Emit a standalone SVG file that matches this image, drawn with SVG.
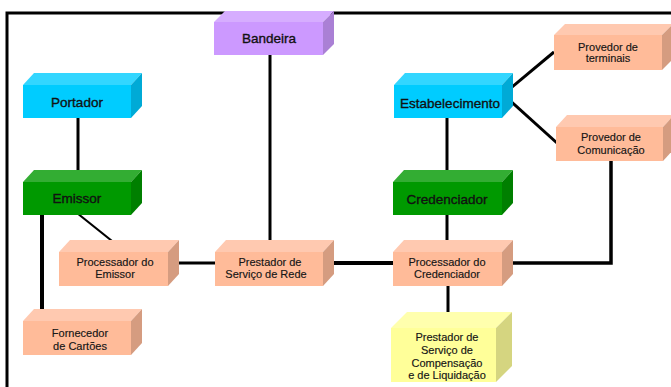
<svg xmlns="http://www.w3.org/2000/svg" width="671" height="387" viewBox="0 0 671 387">
<style>
.t{font-family:"Liberation Sans",Arial,sans-serif;fill:#111;text-anchor:middle}
.L{font-size:13.5px;stroke:#111;stroke-width:0.35px}
.s{font-size:11px;stroke:#222;stroke-width:0.15px}
.ln{stroke:#000;fill:none;stroke-linecap:butt}
.cyF{fill:#00CCFF}.cyT{fill:#33D6FF}.cyR{fill:#00AAD6}
.grF{fill:#009900}.grT{fill:#33AD33}.grR{fill:#007F00}
.puF{fill:#CC99FF}.puT{fill:#D6ADFF}.puR{fill:#AA80D5}
.saF{fill:#FFBB99}.saT{fill:#FFC9B0}.saR{fill:#D59C80}
.yeF{fill:#FFFF99}.yeT{fill:#FFFFAD}.yeR{fill:#D5D580}
</style>
<rect width="671" height="387" fill="#fff"/>
<path class="ln" d="M7,390 V13 H675" stroke-width="3"/>
<g id="connectors">
<path class="ln" d="M78,118 V176" stroke-width="3"/>
<path class="ln" d="M77,213 L117,245" stroke-width="2.2"/>
<path class="ln" d="M42,212 V316" stroke-width="4"/>
<path class="ln" d="M270,55 V245" stroke-width="3"/>
<path class="ln" d="M173,263 H215" stroke-width="3"/>
<path class="ln" d="M328,263 H393" stroke-width="4"/>
<path class="ln" d="M506,92 L554,52" stroke-width="3"/>
<path class="ln" d="M506,97 L557,143" stroke-width="3"/>
<path class="ln" d="M447,118 V173" stroke-width="3"/>
<path class="ln" d="M447,215 V247" stroke-width="3"/>
<path class="ln" d="M611,161 V263 H506" stroke-width="3.5"/>
<path class="ln" d="M448,286 V318" stroke-width="3"/>
</g>
<g id="bandeira">
<polygon class="puT" points="214,22 225,11 334,11 323,22"/>
<polygon class="puR" points="323,22 334,11 334,44 323,55"/>
<rect class="puF" x="214" y="22" width="109" height="33"/>
<text class="t L" x="269" y="43">Bandeira</text>
</g>
<g id="portador">
<polygon class="cyT" points="23,85 34,73 142,73 131,85"/>
<polygon class="cyR" points="131,85 142,73 142,106 131,118"/>
<rect class="cyF" x="23" y="85" width="108" height="33"/>
<text class="t L" x="77" y="107">Portador</text>
</g>
<g id="emissor">
<polygon class="grT" points="23,182 34,170 142,170 131,182"/>
<polygon class="grR" points="131,182 142,170 142,203 131,215"/>
<rect class="grF" x="23" y="182" width="108" height="33"/>
<text class="t L" x="77" y="203">Emissor</text>
</g>
<g id="estabelecimento">
<polygon class="cyT" points="394,85 405,73 513,73 502,85"/>
<polygon class="cyR" points="502,85 513,73 513,106 502,118"/>
<rect class="cyF" x="394" y="85" width="108" height="33"/>
<text class="t L" x="450" y="108">Estabelecimento</text>
</g>
<g id="credenciador">
<polygon class="grT" points="393,182 404,170 513,170 502,182"/>
<polygon class="grR" points="502,182 513,170 513,203 502,215"/>
<rect class="grF" x="393" y="182" width="109" height="33"/>
<text class="t L" x="447" y="204">Credenciador</text>
</g>
<g id="processador-emissor">
<polygon class="saT" points="59,252 70,240 179,240 168,252"/>
<polygon class="saR" points="168,252 179,240 179,274 168,286"/>
<rect class="saF" x="59" y="252" width="109" height="34"/>
<text class="t s" x="115" y="266">Processador do</text>
<text class="t s" x="115" y="278">Emissor</text>
</g>
<g id="prestador-rede">
<polygon class="saT" points="215,252 226,240 334,240 323,252"/>
<polygon class="saR" points="323,252 334,240 334,274 323,286"/>
<rect class="saF" x="215" y="252" width="108" height="34"/>
<text class="t s" x="270" y="266">Prestador de</text>
<text class="t s" x="266" y="278">Serviço de Rede</text>
</g>
<g id="processador-credenciador">
<polygon class="saT" points="393,252 404,240 513,240 502,252"/>
<polygon class="saR" points="502,252 513,240 513,274 502,286"/>
<rect class="saF" x="393" y="252" width="109" height="34"/>
<text class="t s" x="447" y="266">Processador do</text>
<text class="t s" x="447" y="278">Credenciador</text>
</g>
<g id="fornecedor">
<polygon class="saT" points="23,321 34,309 142,309 131,321"/>
<polygon class="saR" points="131,321 142,309 142,343 131,355"/>
<rect class="saF" x="23" y="321" width="108" height="34"/>
<text class="t s" x="80" y="337">Fornecedor</text>
<text class="t s" x="80" y="350">de Cartões</text>
</g>
<g id="provedor-terminais">
<polygon class="saT" points="554,35 565,24 673,24 662,35"/>
<polygon class="saR" points="662,35 673,24 673,59 662,70"/>
<rect class="saF" x="554" y="35" width="108" height="35"/>
<text class="t s" x="608" y="51">Provedor de</text>
<text class="t s" x="608" y="62">terminais</text>
</g>
<g id="provedor-comunicacao">
<polygon class="saT" points="556,127 567,115 674,115 663,127"/>
<polygon class="saR" points="663,127 674,115 674,149 663,161"/>
<rect class="saF" x="556" y="127" width="107" height="34"/>
<text class="t s" x="611" y="141">Provedor de</text>
<text class="t s" x="611" y="154">Comunicação</text>
</g>
<g id="prestador-compensacao">
<polygon class="yeT" points="391,328 407,312 512,312 496,328"/>
<polygon class="yeR" points="496,328 512,312 512,366 496,382"/>
<rect class="yeF" x="391" y="328" width="105" height="54"/>
<text class="t s" x="447" y="341">Prestador de</text>
<text class="t s" x="447" y="354">Serviço de</text>
<text class="t s" x="447" y="367">Compensação</text>
<text class="t s" x="447" y="379">e de Liquidação</text>
</g>
</svg>
